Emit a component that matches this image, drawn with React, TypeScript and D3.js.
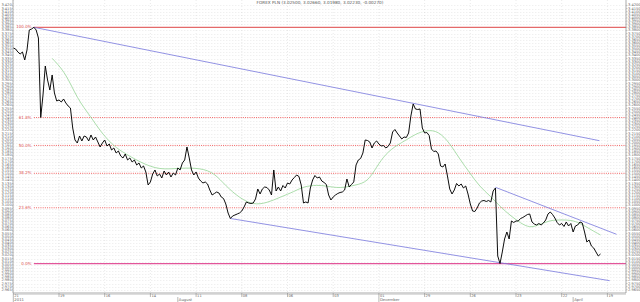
import React from "react";
import * as d3 from "d3";

const TITLE = "FOREX PLN (3.02500, 3.02660, 3.01980, 3.02230, -0.00270)";

// daily closes, trading day 0 .. 257
const closes = [
  3.3519, 3.3503, 3.3455, 3.3423, 3.3455, 3.3327, 3.3487, 3.3807, 3.3823, 3.385,
  3.3807, 3.3679, 3.2407, 3.2767, 3.3231, 3.3007, 3.2847, 3.3087, 3.2799, 3.2671,
  3.2687, 3.2655, 3.2703, 3.2639, 3.2591, 3.2559, 3.2239, 3.2047, 3.1999, 3.2111,
  3.2031, 3.2111, 3.2095, 3.2031, 3.2127, 3.2047, 3.2095, 3.2015, 3.1935, 3.1999,
  3.2047, 3.1951, 3.1983, 3.1887, 3.1919, 3.1839, 3.1871, 3.1791, 3.1759, 3.1823,
  3.1727, 3.1759, 3.1695, 3.1727, 3.1647, 3.1679, 3.1599, 3.1631, 3.1535, 3.1327,
  3.1375, 3.1503, 3.1567, 3.1471, 3.1503, 3.1439, 3.1551, 3.1487, 3.1535, 3.1455,
  3.1519, 3.1487, 3.1599, 3.1567, 3.1679, 3.1727, 3.1935, 3.1759, 3.1567, 3.1487,
  3.1535, 3.1439, 3.1391, 3.1359, 3.1375, 3.1343, 3.1247, 3.1167, 3.1191, 3.1215,
  3.1199, 3.1135, 3.1111, 3.1023, 3.0879, 3.0791, 3.0831, 3.0847, 3.0863, 3.0879,
  3.0911, 3.0975, 3.1055, 3.1039, 3.1031, 3.1039, 3.1103, 3.1263, 3.1183, 3.1263,
  3.1295, 3.1287, 3.1247, 3.1167, 3.1567, 3.1231, 3.1295, 3.1231, 3.1319, 3.1279,
  3.1359, 3.1343, 3.1407, 3.1447, 3.1487, 3.1463, 3.1327, 3.1039, 3.1055, 3.1039,
  3.1279, 3.1407, 3.1479, 3.1439, 3.1455, 3.1391, 3.1367, 3.1335, 3.1167, 3.1087,
  3.1135, 3.1167, 3.1191, 3.1207, 3.1215, 3.1247, 3.1423, 3.1295, 3.1335, 3.1375,
  3.1647, 3.1727, 3.1751, 3.1839, 3.2047, 3.2039, 3.2015, 3.1919, 3.1999, 3.2031,
  3.1983, 3.1951, 3.1959, 3.1919, 3.1943, 3.1999, 3.2175, 3.2215, 3.2159, 3.2111,
  3.2063, 3.2095, 3.2087, 3.2159, 3.2431, 3.2623, 3.2543, 3.2535, 3.2543, 3.2239,
  3.2159, 3.2167, 3.2119, 3.1903, 3.1863, 3.1871, 3.1823, 3.1631, 3.1615, 3.1663,
  3.1471, 3.1263, 3.1183, 3.1247, 3.1351, 3.1311, 3.1343, 3.1279, 3.1311, 3.1183,
  3.1023, 3.0911, 3.0903, 3.0959, 3.1039, 3.1071, 3.1079, 3.1063, 3.1079, 3.1055,
  3.1231, 3.1279, 3.0191, 3.007, 3.0255, 3.0463, 3.0575, 3.0463, 3.0751, 3.0727,
  3.0751, 3.0751, 3.0791, 3.0807, 3.0831, 3.0855, 3.0863, 3.0735, 3.0703, 3.0687,
  3.0711, 3.0687, 3.0719, 3.0767, 3.0863, 3.0895, 3.0855, 3.0799, 3.0727, 3.0687,
  3.0711, 3.0663, 3.0735, 3.0671, 3.0711, 3.0575, 3.0671, 3.0687, 3.0735, 3.0719,
  3.0575, 3.0415, 3.0447, 3.0351, 3.0319, 3.0255, 3.0191, 3.0223,
];

// moving average (trading day, value)
const maDays = [
  17, 23, 28, 34, 38, 43, 47, 56, 64, 73, 82, 88, 93, 99, 105, 111, 117, 123, 127,
  133, 137, 143, 150, 155, 159, 163, 168, 172, 176, 181, 186, 191, 195, 200, 204,
  209, 213, 218, 222, 226, 230, 235, 240, 244, 248, 253, 257,
];
const maValues = [
  3.3354, 3.3119, 3.2703, 3.2415, 3.2191, 3.1983, 3.1871, 3.1679, 3.1567, 3.1599,
  3.1599, 3.1519, 3.1311, 3.1119, 3.1007, 3.1039, 3.1135, 3.1223, 3.1303, 3.1327,
  3.1311, 3.1271, 3.1327, 3.1375, 3.1615, 3.1831, 3.1967, 3.2047, 3.2143, 3.2207,
  3.2191, 3.1999, 3.1759, 3.1511, 3.1303, 3.1143, 3.0983, 3.0823, 3.0719, 3.0639,
  3.0687, 3.0767, 3.0767, 3.0767, 3.0719, 3.0607, 3.0527,
];

const fibHigh = 3.385;
const fibLow = 3.007;
const fibStartDay = 9;
const fibRatios = [1, 0.618, 0.5, 0.382, 0.236, 0];
const fibLabels = ["100.0%", "61.8%", "50.0%", "38.2%", "23.6%", "0.0%"];

// trend lines: [startDay, startValue, endDay, endValue]
const trendLines = [
  [9, 3.385, 256.5, 3.2036],
  [95, 3.0791, 261, 2.9796],
  [211, 3.129, 264, 3.0538],
];

const gridDays = [0, 20, 40, 60, 80, 100, 120, 140, 160, 180, 200, 220, 240, 260];
const gridDayLabels = ["21", "19", "16", "14", "11", "08", "06", "03", "01", "29", "26", "23", "22", "19"];
const monthDays = [0, 72, 160, 245];
const monthLabels = ["2011", "August", "December", "April"];

const yTickStart = 2.965;
const yTickEnd = 3.42;
const yTickStep = 0.005;

const W = 640;
const H = 302;
const L = 13.3;
const R = 626;
const B = 293;
const FONT = "DejaVu Sans, sans-serif";

export default function App() {
  const x = d3.scaleLinear().domain([0, 268]).range([L, L + 268 * 2.285]);
  const y = d3.scaleLinear().domain([2.95988, 3.42868]).range([B, 0]);

  const yTicks = d3.range(Math.round((yTickEnd - yTickStart) / yTickStep) + 1).map((i) => yTickStart + i * yTickStep);

  const priceLine = d3
    .line<number>()
    .x((_, i) => x(i))
    .y((d) => y(d))(closes) as string;

  const maLine = d3
    .line<number>()
    .x((_, i) => x(maDays[i]))
    .y((d) => y(d))
    .curve(d3.curveBasis)(maValues) as string;

  return (
    <svg width={W} height={H} style={{ position: "fixed", left: 0, top: 0, background: "#fff" }} fontFamily={FONT}>
      <rect x={0} y={0} width={W} height={H} fill="#fff" />
      {/* horizontal grid */}
      {yTicks.map((t, i) => (
        <line key={"hg" + i} x1={L} x2={R} y1={Math.round(y(t)) + 0.5} y2={Math.round(y(t)) + 0.5}
          stroke="#d4d4d4" strokeWidth={0.5} strokeDasharray="1,2" />
      ))}
      {/* vertical grid */}
      {gridDays.map((d, i) => (
        <line key={"vg" + i} x1={x(d)} x2={x(d)} y1={0} y2={B} stroke="#d4d4d4" strokeWidth={0.5} strokeDasharray="1,2" />
      ))}
      {/* fib levels */}
      {fibRatios.map((r, i) => {
        const v = fibLow + r * (fibHigh - fibLow);
        const yy = y(v);
        const solid = r === 1 || r === 0;
        const col = r === 0 ? "#e2559a" : r === 1 ? "#e46a6a" : "#f06060";
        return (
          <g key={"fib" + i}>
            <line x1={x(fibStartDay)} x2={R} y1={yy} y2={yy} stroke={col}
              strokeWidth={solid ? 1.2 : 1} strokeDasharray={solid ? undefined : "1,1.2"} />
            <text x={31.5} y={yy} fontSize={4} fill="#e05050" textAnchor="end" dominantBaseline="middle">
              {fibLabels[i]}
            </text>
          </g>
        );
      })}
      {/* trend lines */}
      {trendLines.map((t, i) => (
        <line key={"tl" + i} x1={x(t[0])} y1={y(t[1])} x2={x(t[2])} y2={y(t[3])} stroke="#7777dd" strokeWidth={0.8} />
      ))}
      {/* moving average */}
      <path d={maLine} fill="none" stroke="#95d495" strokeWidth={0.8} />
      {/* price */}
      <path d={priceLine} fill="none" stroke="#000" strokeWidth={0.95} strokeLinejoin="round" />
      {/* axes */}
      <line x1={L - 0.3} x2={L - 0.3} y1={0} y2={B} stroke="#888" strokeWidth={0.7} />
      <line x1={R} x2={R} y1={0} y2={B} stroke="#888" strokeWidth={0.7} />
      <line x1={L - 0.3} x2={R} y1={B} y2={B} stroke="#888" strokeWidth={0.7} />
      <line x1={L - 0.3} x2={R} y1={B + 1.3} y2={B + 1.3} stroke="#aaa" strokeWidth={0.5} />
      {yTicks.map((t, i) => (
        <g key={"yl" + i}>
          <line x1={L - 1.5} x2={L - 0.3} y1={y(t)} y2={y(t)} stroke="#999" strokeWidth={0.5} />
          <text x={L - 1.6} y={y(t)} fontSize={3.6} fill="#666" textAnchor="end" dominantBaseline="middle">
            {t.toFixed(3)}
          </text>
          <line x1={R} x2={R + 1.5} y1={y(t)} y2={y(t)} stroke="#999" strokeWidth={0.5} />
          <text x={R + 2} y={y(t)} fontSize={3.6} fill="#666" textAnchor="start" dominantBaseline="middle">
            {t.toFixed(4)}
          </text>
        </g>
      ))}
      {/* x ticks */}
      {gridDays.map((d, i) => (
        <g key={"xt" + i}>
          <line x1={x(d)} x2={x(d)} y1={B} y2={B + 4} stroke="#888" strokeWidth={0.6} />
          <text x={x(d) + 1} y={B + 2.8} fontSize={3.6} fill="#666" dominantBaseline="middle">
            {gridDayLabels[i]}
          </text>
        </g>
      ))}
      {monthDays.map((d, i) => (
        <g key={"mt" + i}>
          <line x1={x(d)} x2={x(d)} y1={B + 4} y2={H} stroke="#888" strokeWidth={0.6} />
          <text x={x(d) + 1} y={B + 7.2} fontSize={3.8} fill="#666" dominantBaseline="middle">
            {monthLabels[i]}
          </text>
        </g>
      ))}
      <text x={320} y={3} fontSize={4.2} fill="#555" textAnchor="middle" dominantBaseline="middle">
        {TITLE}
      </text>
    </svg>
  );
}
